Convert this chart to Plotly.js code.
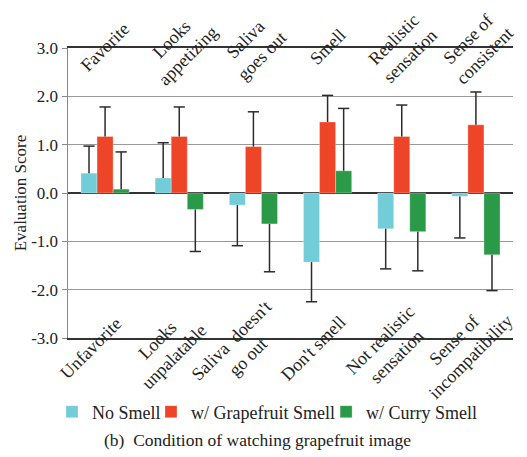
<!DOCTYPE html>
<html>
<head>
<meta charset="utf-8">
<script src="https://cdn.plot.ly/plotly-3.0.1.min.js"></script>
<style>html,body{margin:0;padding:0;background:#fff;}#chart{width:527px;height:457px;}</style>
</head>
<body>
<div id="chart"></div>
<script>
const categories = ["Favorite", "Looks appetizing", "Saliva goes out", "Smell", "Realistic sensation", "Sense of consistent"];
const topLabels = ["Favorite", "Looks<br>appetizing", "Saliva<br>goes out", "Smell", "Realistic<br>sensation", "Sense of<br>consistent"];
const bottomLabels = ["Unfavorite", "Looks<br>unpalatable", "Saliva  doesn't<br>go out", "Don't smell", "Not realistic<br>sensation", "Sense of<br>incompatibility"];
const seriesNames = ["No Smell", "w/ Grapefruit Smell", "w/ Curry Smell"];
const noSmell = [0.41, 0.31, -0.25, -1.43, -0.74, -0.07];
const noSmellErr = [0.56, 0.73, 0.84, 0.82, 0.83, 0.86];
const grapefruit = [1.17, 1.17, 0.96, 1.47, 1.17, 1.41];
const grapefruitErr = [0.61, 0.61, 0.72, 0.55, 0.65, 0.68];
const curry = [0.08, -0.34, -0.64, 0.46, -0.80, -1.28];
const curryErr = [0.77, 0.87, 0.99, 1.29, 0.81, 0.74];
const yTicks = [-3, -2, -1, 0, 1, 2, 3];
const yTickText = ["-3.0", "-2.0", "-1.0", "0.0", "1.0", "2.0", "3.0"];
const caption = "(b)  Condition of watching grapefruit image";

const colors = ["#73CDD8", "#EE4529", "#2A9A48"];
const FONT = "Liberation Serif, Times New Roman, serif";
const idx = categories.map((c, i) => i);
const groups = ["g0", "g1", "g2"];
const legendIds = ["legend", "legend2", "legend3"];

function barTrace(vals, errs, k) {
  return {
    type: "bar", x: idx, y: vals, name: seriesNames[k], offsetgroup: groups[k], legend: legendIds[k],
    marker: {color: colors[k], line: {color: "rgba(255,255,255,0.6)", width: 0.5}},
    error_y: {
      type: "data", symmetric: false,
      array: vals.map((v, i) => v >= 0 ? errs[i] : 0),
      arrayminus: vals.map((v, i) => v < 0 ? errs[i] : 0),
      color: "#2b2b2b", thickness: 1.5, width: 0
    },
    hoverinfo: "y"
  };
}
function capTrace(vals, errs, k) {
  return {
    type: "scatter", mode: "markers", x: idx, offsetgroup: groups[k],
    y: vals.map((v, i) => v >= 0 ? v + errs[i] : v - errs[i]),
    marker: {symbol: "line-ew", size: 8, line: {color: "#2b2b2b", width: 1.5}},
    showlegend: false, hoverinfo: "skip"
  };
}

const data = [
  barTrace(noSmell, noSmellErr, 0),
  barTrace(grapefruit, grapefruitErr, 1),
  barTrace(curry, curryErr, 2),
  capTrace(noSmell, noSmellErr, 0),
  capTrace(grapefruit, grapefruitErr, 1),
  capTrace(curry, curryErr, 2)
];

const annotations = [];
idx.forEach(i => {
  annotations.push({x: i, y: 1.003, xref: "x", yref: "paper", text: topLabels[i], showarrow: false,
    textangle: -45, xanchor: "center", yanchor: "middle", align: "center",
    font: {family: FONT, size: 18, color: "#222"}});
  annotations.push({x: i, y: -0.035, xref: "x", yref: "paper", text: bottomLabels[i], showarrow: false,
    textangle: -45, xanchor: "center", yanchor: "middle", align: "center", xshift: -14,
    font: {family: FONT, size: 18, color: "#222"}});
});
annotations.push({x: 0.425, y: -0.352, xref: "paper", yref: "paper", text: caption, showarrow: false,
  xanchor: "center", yanchor: "middle", font: {family: FONT, size: 17.5, color: "#222"}});

function legendAt(x) {
  return {orientation: "h", x: x, xanchor: "left", y: -0.255, yanchor: "middle",
    font: {family: FONT, size: 18, color: "#222"}, itemwidth: 30, bgcolor: "rgba(0,0,0,0)"};
}

const layout = {
  width: 527, height: 457,
  margin: {l: 68, r: 14, t: 48, b: 119},
  paper_bgcolor: "#fff", plot_bgcolor: "#fff",
  font: {family: FONT, size: 17, color: "#222"},
  barmode: "group", bargap: 0.35, bargroupgap: 0,
  scattermode: "group", scattergap: 0.35,
  showlegend: true,
  legend: legendAt(-0.036),
  legend2: legendAt(0.1865),
  legend3: legendAt(0.58),
  xaxis: {range: [-0.5, 5.5], showticklabels: false, ticks: "", showgrid: false, zeroline: false,
    showline: true, linecolor: "#333", linewidth: 2, mirror: true},
  xaxis2: {overlaying: "x", anchor: "free", position: 0.5, range: [-0.5, 5.5],
    tickvals: [0.5, 1.5, 2.5, 3.5, 4.5], ticks: "outside", ticklen: 4, tickwidth: 1.5, tickcolor: "#333",
    showticklabels: false, showgrid: false, zeroline: false, showline: false},
  yaxis: {range: [-3, 3], tickvals: yTicks, ticktext: yTickText, ticks: "outside", ticklen: 5,
    tickcolor: "#888", gridcolor: "#999", gridwidth: 1.2, zeroline: true, zerolinecolor: "#333",
    zerolinewidth: 2, showline: true, linecolor: "#888", linewidth: 1.5,
    tickfont: {family: FONT, size: 17, color: "#222"},
    title: {text: "Evaluation Score", font: {family: FONT, size: 17, color: "#222"}, standoff: 0}},
  yaxis2: {overlaying: "y", side: "right", range: [-3, 3], showticklabels: false, ticks: "",
    showgrid: false, zeroline: false, showline: true, linecolor: "#333", linewidth: 2},
  annotations: annotations
};

Plotly.newPlot("chart", data, layout, {displayModeBar: false, staticPlot: true});
</script>
</body>
</html>
